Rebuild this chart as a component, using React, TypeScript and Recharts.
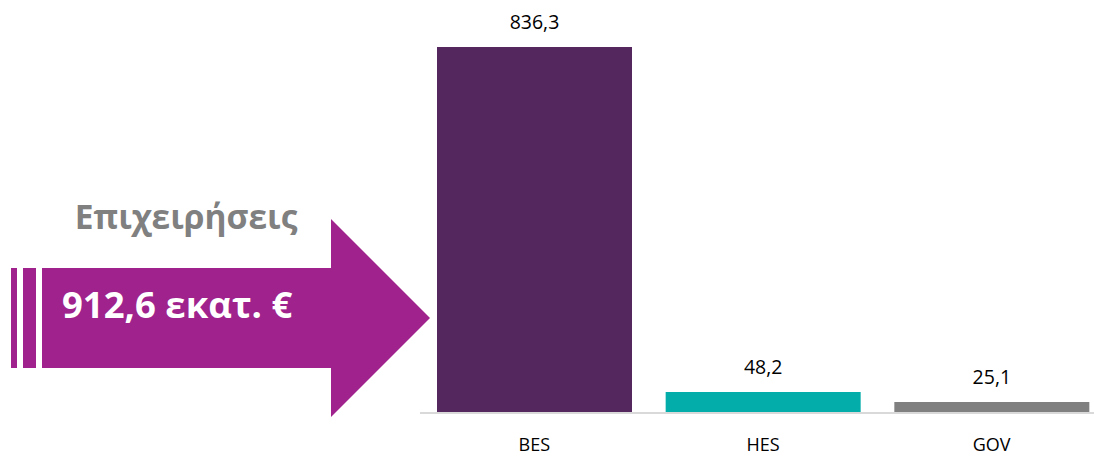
import { BarChart, Bar, XAxis, YAxis, LabelList, Cell } from "recharts";

// sectors and their R&D expenditure (εκατ. €)
const sectors = ["BES", "HES", "GOV"];
const amounts = [836.3, 48.2, 25.1];
const sectorColors = ["#54285F", "#02ADAA", "#808080"];

const totalTitle = "Επιχειρήσεις";
const totalLabel = "912,6 εκατ. €";

const data = sectors.map((name, i) => ({ name, value: amounts[i] }));

const FONT = "'Open Sans', sans-serif";

const fmt = (v: any) => Number(v).toFixed(1).replace(".", ",");

function Arrow() {
  return (
    <svg
      width={440}
      height={459}
      style={{ position: "absolute", left: 0, top: 0 }}
    >
      <rect x={11} y={268} width={6} height={100} fill="#A0228C" />
      <rect x={23} y={268} width={13} height={100} fill="#A0228C" />
      <polygon
        points="42,268 331,268 331,219 430,318 331,417 331,368 42,368"
        fill="#A0228C"
      />
      <text
        x={186}
        y={229}
        textAnchor="middle"
        fontFamily={FONT}
        fontWeight={700}
        fontSize={33.5}
        fill="#808080"
      >
        {totalTitle}
      </text>
      <text
        x={62}
        y={318}
        fontFamily={FONT}
        fontWeight={700}
        fontSize={36.5}
        fill="#FFFFFF"
      >
        {totalLabel}
      </text>
    </svg>
  );
}

export default function App() {
  return (
    <div
      style={{
        position: "absolute",
        left: 0,
        top: 0,
        width: 1094,
        height: 459,
        overflow: "hidden",
        background: "#fff",
      }}
    >
      <div style={{ position: "absolute", left: 0, top: 0 }}>
        <BarChart
          width={1106}
          height={459}
          data={data}
          margin={{ top: 19, right: 0, bottom: 0, left: 420 }}
          barSize={195}
        >
          <XAxis
            dataKey="name"
            height={46}
            tickLine={false}
            tickSize={0}
            tickMargin={25}
            axisLine={{ stroke: "#D9D9D9", strokeWidth: 2 }}
            tick={{ fill: "#000", fontSize: 18, fontFamily: FONT }}
          />
          <YAxis hide domain={[0, 900]} />
          <Bar dataKey="value" isAnimationActive={false}>
            {data.map((d, i) => (
              <Cell key={d.name} fill={sectorColors[i]} />
            ))}
            <LabelList
              dataKey="value"
              position="top"
              offset={18}
              formatter={fmt}
              style={{ fill: "#000", fontSize: 19.5, fontFamily: FONT }}
            />
          </Bar>
        </BarChart>
      </div>
      <Arrow />
    </div>
  );
}
